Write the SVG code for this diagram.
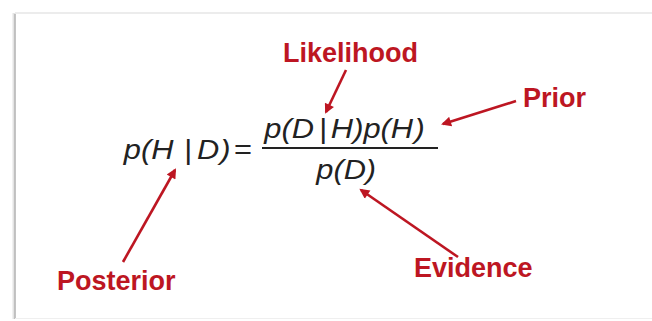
<svg xmlns="http://www.w3.org/2000/svg" width="652" height="321" viewBox="0 0 652 321">
  <defs>
    <style>
      .lbl { font-family: "Liberation Sans", Arial, sans-serif; font-weight: bold; font-size: 27px; fill: #bd1622; }
      .math { font-family: "Liberation Sans", Arial, sans-serif; font-style: italic; font-size: 28px; fill: #222222; }
      .up { font-style: normal; }
      .arrow { stroke: #bd1622; stroke-width: 2.6; fill: none; marker-end: url(#ah); }
    </style>
    <marker id="ah" viewBox="0 0 10 10" refX="8" refY="5" markerWidth="12" markerHeight="10" markerUnits="userSpaceOnUse" orient="auto">
      <path d="M0,0 L10,5 L0,10 Z" fill="#bd1622"/>
    </marker>
  </defs>
  <rect x="0" y="0" width="652" height="321" fill="#ffffff"/>
  <g id="frame">
    <line x1="14" y1="13" x2="14" y2="319" stroke="#e4e4e4" stroke-width="3"/>
    <line x1="15" y1="14" x2="15" y2="319" stroke="#b4b4b4" stroke-width="1.5"/>
    <line x1="15" y1="13" x2="652" y2="13" stroke="#e6e6e6" stroke-width="1.5"/>
    <line x1="15" y1="318.5" x2="652" y2="318.5" stroke="#efefef" stroke-width="1"/>
  </g>
  <g id="formula">
    <text class="math" y="159" transform="scale(1.1,1)"><tspan x="112.5">p</tspan><tspan x="128.1">(</tspan><tspan x="137.4">H</tspan><tspan x="167.5" class="up">|</tspan><tspan x="179.1">D</tspan><tspan x="200.2">)</tspan><tspan x="212.7" class="up">=</tspan></text>
    <text class="math" y="138" transform="scale(1.1,1)"><tspan x="240.3">p</tspan><tspan x="255.9">(</tspan><tspan x="265.2">D</tspan><tspan x="290.3" class="up">|</tspan><tspan x="300.8">H</tspan><tspan x="321.1">)</tspan><tspan x="330.4">p</tspan><tspan x="346">(</tspan><tspan x="355.3">H</tspan><tspan x="376.8">)</tspan></text>
    <line x1="262" y1="148" x2="438" y2="148" stroke="#222222" stroke-width="1.8"/>
    <text class="math" y="179" transform="scale(1.1,1)"><tspan x="287.5">p</tspan><tspan x="303.1">(</tspan><tspan x="312.4">D</tspan><tspan x="332.6">)</tspan></text>
  </g>
  <g id="likelihood"><text class="lbl" x="283" y="62">Likelihood</text></g>
  <g id="prior"><text class="lbl" x="523" y="107">Prior</text></g>
  <g id="posterior"><text class="lbl" x="57" y="290">Posterior</text></g>
  <g id="evidence"><text class="lbl" x="414" y="277">Evidence</text></g>
  <g id="connectors">
    <line class="arrow" x1="346" y1="70" x2="326" y2="112"/>
    <line class="arrow" x1="516" y1="101" x2="443" y2="124"/>
    <line class="arrow" x1="123" y1="262" x2="175" y2="170"/>
    <line class="arrow" x1="458" y1="257" x2="361" y2="190"/>
  </g>
</svg>
